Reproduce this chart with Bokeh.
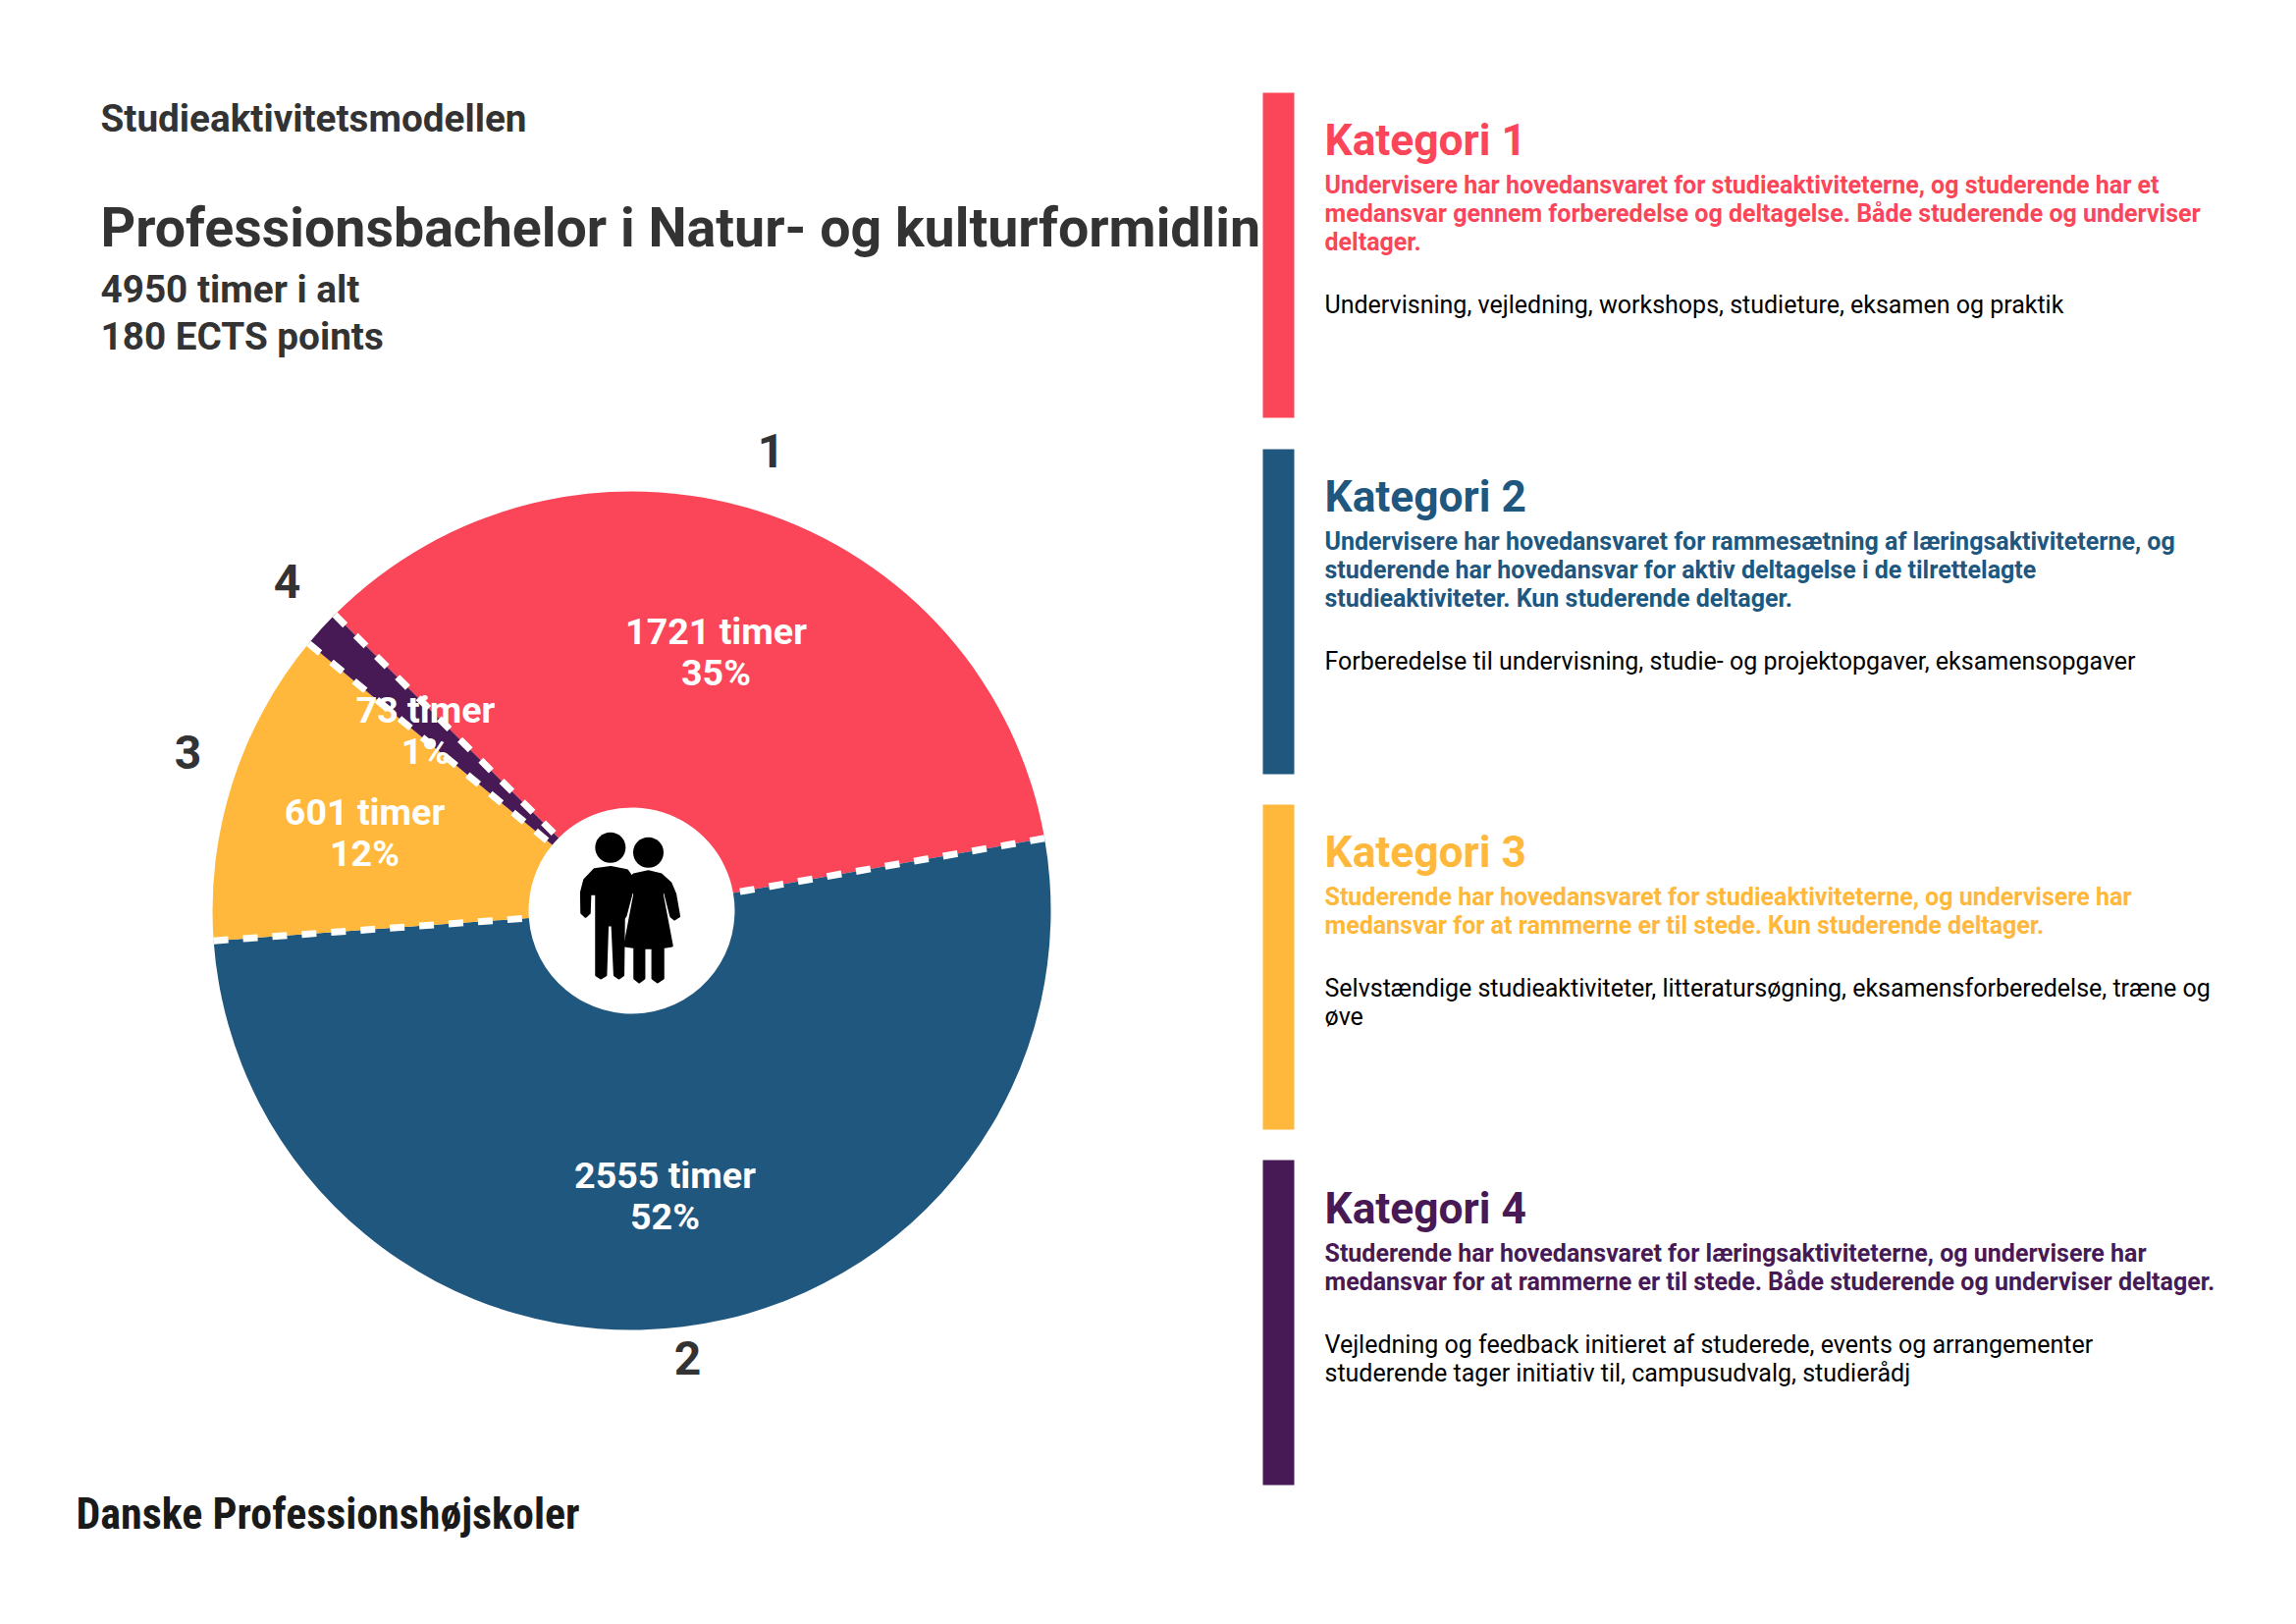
import math
from bokeh.plotting import figure
from bokeh.models import Range1d
from bokeh.core.properties import value
from bokeh.embed import file_html
from bokeh.resources import INLINE

# ---------- data ----------
categories = ["1", "2", "3", "4"]
hours = [1721, 2555, 601, 73]
percent_labels = ["35%", "52%", "12%", "1%"]
colors = ["#FB4559", "#20577F", "#FFB83B", "#471A55"]
start_angle_deg = 135.1

header_lines = ["Studieaktivitetsmodellen", "Professionsbachelor i Natur- og kulturformidlin",
                "4950 timer i alt", "180 ECTS points"]
logo_text = "Danske Professionshøjskoler"
cat_titles = ["Kategori 1", "Kategori 2", "Kategori 3", "Kategori 4"]
cat_bold = [
    ["Undervisere har hovedansvaret for studieaktiviteterne, og studerende har et",
     "medansvar gennem forberedelse og deltagelse. Både studerende og underviser",
     "deltager."],
    ["Undervisere har hovedansvaret for rammesætning af læringsaktiviteterne, og",
     "studerende har hovedansvar for aktiv deltagelse i de tilrettelagte",
     "studieaktiviteter. Kun studerende deltager."],
    ["Studerende har hovedansvaret for studieaktiviteterne, og undervisere har",
     "medansvar for at rammerne er til stede. Kun studerende deltager."],
    ["Studerende har hovedansvaret for læringsaktiviteterne, og undervisere har",
     "medansvar for at rammerne er til stede. Både studerende og underviser deltager."],
]
cat_plain = [
    ["Undervisning, vejledning, workshops, studieture, eksamen og praktik"],
    ["Forberedelse til undervisning, studie- og projektopgaver, eksamensopgaver"],
    ["Selvstændige studieaktiviteter, litteratursøgning, eksamensforberedelse, træne og", "øve"],
    ["Vejledning og feedback initieret af studerede, events og arrangementer",
     "studerende tager initiativ til, campusudvalg, studierådj"],
]

# ---------- layout (page pixels) ----------
W, H = 2339, 1654
FW, FH = 2323, 1638
Y = lambda py: H - py
CX, CY, R, R0 = 643, 927, 427, 105
FONT = "Roboto"
DARK = "#333333"

p = figure(width=FW, height=FH, x_range=Range1d(0, FW), y_range=Range1d(H - FH, H),
           x_axis_type=None, y_axis_type=None, toolbar_location=None, output_backend="svg",
           min_border=0, outline_line_color=None, background_fill_color="white")
p.grid.visible = False

def txt(x, y, s, size, color, style="bold", align="left", font=FONT):
    p.text([x], [Y(y)], text=[s], text_font=value(font), text_font_size=f"{size}px",
           text_font_style=style, text_color=color, text_align=align, text_baseline="middle")

# pie
total = sum(hours)
edges = [math.radians(start_angle_deg)]
for h in hours:
    edges.append(edges[-1] - 2 * math.pi * h / total)

p.annular_wedge(x=CX, y=Y(CY), inner_radius=R0, outer_radius=R,
                start_angle=edges[1:], end_angle=edges[:-1],
                fill_color=colors, line_color=None)

# dashed separators
for a in edges[:-1]:
    c, s = math.cos(a), math.sin(a)
    p.line([CX + R * c, CX + R0 * c], [Y(CY) + R * s, Y(CY) + R0 * s],
           line_color="white", line_width=7, line_dash="15 15")

# slice labels
label_pos = [(729, 642, 684), (677, 1196, 1238), (371, 826, 868), (433, 722, 764)]
for h, pc, (x, y1, y2) in zip(hours, percent_labels, label_pos):
    txt(x, y1, f"{h} timer", 37.6, "white", align="center")
    txt(x, y2, pc, 37.6, "white", align="center")

# outer numbers
num_pos = [(785, 458), (700, 1382), (191, 765), (292, 591)]
for c, (x, y) in zip(categories, num_pos):
    txt(x, y, c, 48, DARK, align="center")

# person icon
def ix(v): return [570 + a / 3 for a in v]
def iy(v): return [Y(830 + a / 3) for a in v]
man = [(105,165),(155,158),(205,168),(215,182),(205,240),(195,320),(193,488),(180,497),(167,488),(160,335),
       (145,335),(140,488),(125,497),(111,488),(111,240),(92,240),(90,298),(78,309),(66,298),(65,235),(75,197)]
woman = [(270,171),(225,181),(197,207),(183,250),(178,303),(190,315),(200,308),(222,225),(228,240),(198,398),
         (228,403),(228,498),(242,509),(257,498),(257,405),(283,405),(283,498),(298,509),(315,498),(315,403),
         (342,398),(312,240),(318,225),(339,308),(350,317),(364,308),(352,240),(338,207),(310,181)]
p.scatter(ix([154, 270]), iy([98, 113]), size=31, marker="circle", fill_color="black", line_color=None)
p.patch(ix([a for a, _ in man]), iy([b for _, b in man]), fill_color="black", line_color="black", line_width=2.5, line_join="round")
p.patch(ix([a for a, _ in woman]), iy([b for _, b in woman]), fill_color="black", line_color="black", line_width=2.5, line_join="round")

# header
txt(102, 120, header_lines[0], 38.7, DARK)
txt(102, 232, header_lines[1], 55.5, DARK)
txt(102, 294, header_lines[2], 38.7, DARK)
txt(102, 342, header_lines[3], 38.7, DARK)
txt(77, 1541, logo_text, 44, "#1a1a1a", font="Roboto Condensed")

# category panels
tops = [94, 457, 819, 1181]
for i, top in enumerate(tops):
    p.quad(left=1286, right=1318, top=Y(top), bottom=Y(top + 331), fill_color=colors[i], line_color=None)
    ty = top + (1 if i == 3 else 0)
    txt(1349, ty + 48, cat_titles[i], 44.3, colors[i])
    for j, line in enumerate(cat_bold[i]):
        txt(1349, ty + 94 + 29 * j, line, 25, colors[i])
    plain_top = ty + 94 + 29 * len(cat_bold[i]) + 35
    for j, line in enumerate(cat_plain[i]):
        txt(1349, plain_top + 29 * j, line, 25, "black", style="normal")

open("out.html", "w").write(file_html(p, INLINE))
